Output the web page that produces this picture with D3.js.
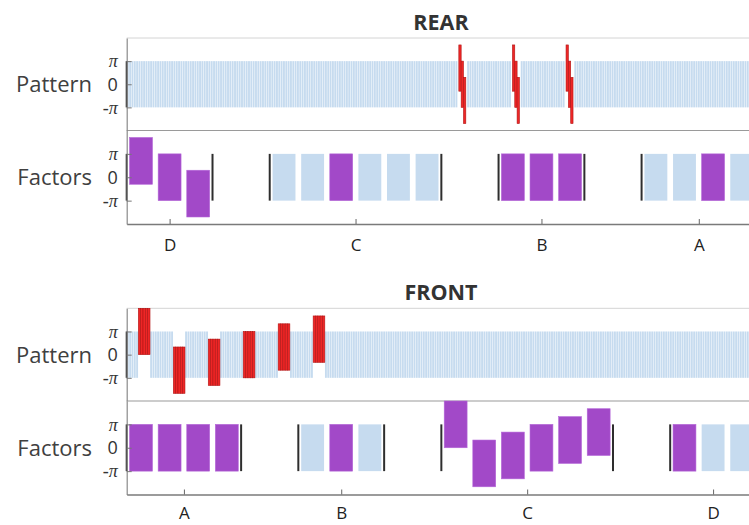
<!DOCTYPE html>
<html>
<head>
<meta charset="utf-8">
<script src="https://cdn.jsdelivr.net/npm/d3@7"></script>
<style>
  body { margin: 0; background: #fff; }
  svg { display: block; }
</style>
</head>
<body>
<script>
// factor slots (x in slot units), phase in units of pi, on = purple
const rearFactorSlot  = [0, 1, 2, 5, 6, 7, 8, 9, 10, 13, 14, 15, 18, 19, 20, 21];
const rearFactorPhase = [0.7, 0, -0.7, 0, 0, 0, 0, 0, 0, 0, 0, 0, 0, 0, 0, 0];
const rearFactorOn    = [1, 1, 1, 0, 0, 1, 0, 0, 0, 1, 1, 1, 0, 0, 1, 0];
const rearSeparators  = [-0.5, 2.5, 4.5, 10.5, 12.5, 15.5, 17.5, 21.5];
const rearTickAt      = [1, 7.5, 14, 19.5];
const rearTickLabels  = ["D", "C", "B", "A"];

const frontFactorSlot  = [0, 1, 2, 3, 6, 7, 8, 11, 12, 13, 14, 15, 16, 19, 20, 21];
const frontFactorPhase = [0, 0, 0, 0, 0, 0, 0, 1, -0.67, -0.33, 0, 0.33, 0.67, 0, 0, 0];
const frontFactorOn    = [1, 1, 1, 1, 0, 1, 0, 1, 1, 1, 1, 1, 1, 1, 0, 0];
const frontSeparators  = [-0.5, 3.5, 5.5, 8.5, 10.5, 16.5, 18.5, 21.5];
const frontTickAt      = [1.5, 7, 13.5, 20];
const frontTickLabels  = ["A", "B", "C", "D"];

// pattern time steps; red bursts replace the blue background
const stepCount = 270;
const rearBurstStart  = [142, 165, 188];
const rearBurstPhase  = [0.7, 0, -0.7];     // one value per step inside a burst
const frontBurstStart = [5, 20, 35, 50, 65, 80];
const frontBurstPhase = [1, -0.67, -0.33, 0, 0.33, 0.67];  // one value per burst
const frontBurstLen   = 5;

const yTickValues = [1, 0, -1];
const yTickLabels = ["π", "0", "-π"];

const BLUE = "#c6dbef", PURPLE = "#a249c8", RED = "#ee2626";
const FONT = "'Open Sans', 'Noto Sans', sans-serif";

const svg = d3.select("body").append("svg")
  .attr("width", 749)
  .attr("height", 525);

const x0 = 126.7, x1 = 756;
const xSlot = d3.scaleLinear().domain([-0.5, 21.5]).range([x0, x1]);
const xStep = d3.scaleLinear().domain([0, stepCount]).range([x0, x1]);
const stepW = xStep(1) - xStep(0);

// build red bursts + gap list for each panel
const rearRed = [], rearGap = new Set();
rearBurstStart.forEach(s => {
  rearBurstPhase.forEach((ph, k) => rearRed.push({ step: s + 0.5 + k, phase: ph }));
  for (let k = 0; k < rearBurstPhase.length + 1; k++) rearGap.add(s + k);
});
const frontRed = [], frontGap = new Set();
frontBurstStart.forEach((s, j) => {
  for (let k = 0; k < frontBurstLen; k++) {
    frontRed.push({ step: s + k, phase: frontBurstPhase[j] });
    frontGap.add(s + k);
  }
});

const panels = [
  { title: "REAR", titleY: 22, top: 38, mid: 130.5, bottom: 224, pad: 15,
    slot: rearFactorSlot, phase: rearFactorPhase, on: rearFactorOn,
    seps: rearSeparators, tickAt: rearTickAt, tickLabels: rearTickLabels,
    red: rearRed, gap: rearGap },
  { title: "FRONT", titleY: 292, top: 308.3, mid: 401, bottom: 494.5, pad: 12,
    slot: frontFactorSlot, phase: frontFactorPhase, on: frontFactorOn,
    seps: frontSeparators, tickAt: frontTickAt, tickLabels: frontTickLabels,
    red: frontRed, gap: frontGap }
];

panels.forEach(p => {
  const g = svg.append("g");
  const yPat = d3.scaleLinear().domain([-2, 2]).range([p.mid, p.top]);
  const yFac = d3.scaleLinear().domain([-2, 2]).range([p.bottom, p.mid]);

  // title
  g.append("text")
    .attr("x", 441).attr("y", p.titleY)
    .attr("text-anchor", "middle").attr("dy", "0.35em")
    .style("font-family", FONT).style("font-weight", "bold")
    .style("font-size", "21.5px").attr("fill", "#333")
    .text(p.title);

  // frame lines
  g.append("line").attr("x1", x0).attr("x2", 749).attr("y1", p.top).attr("y2", p.top)
    .attr("stroke", "#d4d4d4").attr("stroke-width", 1);
  g.append("line").attr("x1", x0).attr("x2", 749).attr("y1", p.mid).attr("y2", p.mid)
    .attr("stroke", "#9a9a9a").attr("stroke-width", 1.2);

  // pattern: blue background steps
  g.append("g").selectAll("rect")
    .data(d3.range(stepCount).filter(i => !p.gap.has(i)))
    .join("rect")
    .attr("x", i => xStep(i) + 0.15)
    .attr("width", stepW - 0.45)
    .attr("y", yPat(1))
    .attr("height", yPat(-1) - yPat(1))
    .attr("fill", BLUE);

  // pattern: red bursts
  g.append("g").selectAll("rect")
    .data(p.red)
    .join("rect")
    .attr("x", d => xStep(d.step))
    .attr("width", stepW)
    .attr("y", d => yPat(d.phase + 1))
    .attr("height", d => yPat(d.phase - 1) - yPat(d.phase + 1))
    .attr("fill", RED)
    .attr("stroke", "#b01515").attr("stroke-width", 0.6);

  // factors
  const fac = p.slot.map((s, i) => ({ slot: s, phase: p.phase[i], on: p.on[i] }));
  g.append("g").selectAll("rect")
    .data(fac)
    .join("rect")
    .attr("x", d => xSlot(d.slot - 0.4))
    .attr("width", xSlot(0.4) - xSlot(-0.4))
    .attr("y", d => yFac(d.phase + 1))
    .attr("height", d => yFac(d.phase - 1) - yFac(d.phase + 1))
    .attr("fill", d => d.on ? PURPLE : BLUE)
    .attr("stroke", d => d.on ? "#b466d8" : "none")
    .attr("stroke-width", 0.6);

  // group separators
  g.append("g").selectAll("line")
    .data(p.seps)
    .join("line")
    .attr("x1", d => xSlot(d)).attr("x2", d => xSlot(d))
    .attr("y1", yFac(1)).attr("y2", yFac(-1))
    .attr("stroke", "#2e2e2e").attr("stroke-width", 2);
  g.append("line")
    .attr("x1", x0).attr("x2", x0)
    .attr("y1", yPat(1)).attr("y2", yPat(-1))
    .attr("stroke", "#2e2e2e").attr("stroke-width", 2);

  // y axes (pattern, factors)
  [[yPat, "Pattern"], [yFac, "Factors"]].forEach(([y, name]) => {
    const ax = g.append("g")
      .attr("transform", `translate(${x0},0)`)
      .call(d3.axisLeft(y)
        .tickValues(yTickValues)
        .tickFormat((d, i) => yTickLabels[i])
        .tickSizeInner(-5).tickSizeOuter(0).tickPadding(9));
    ax.select(".domain").attr("stroke", "#8a8a8a").attr("stroke-width", 1.2);
    ax.selectAll(".tick line").attr("stroke", "#777");
    ax.selectAll("text")
      .attr("fill", "#333")
      .style("font-size", "18px")
      .style("font-family", (d, i) => i === 1 ? FONT : "'Liberation Serif', serif")
      .style("font-style", (d, i) => i === 1 ? "normal" : "italic");
    g.append("text")
      .attr("x", 92).attr("y", y(0)).attr("dy", "0.36em")
      .attr("text-anchor", "end")
      .style("font-family", FONT).style("font-size", "22px")
      .attr("fill", "#404040")
      .text(name);
  });

  // bottom axis
  const bx = g.append("g")
    .attr("transform", `translate(0,${p.bottom})`)
    .call(d3.axisBottom(xSlot)
      .tickValues(p.tickAt)
      .tickFormat((d, i) => p.tickLabels[i])
      .tickSizeInner(-5).tickSizeOuter(0).tickPadding(p.pad));
  bx.select(".domain").attr("stroke", "#7a7a7a").attr("stroke-width", 1.3);
  bx.selectAll(".tick line").attr("stroke", "#666");
  bx.selectAll("text")
    .attr("fill", "#222")
    .style("font-family", FONT).style("font-size", "17px");
});
</script>
</body>
</html>
